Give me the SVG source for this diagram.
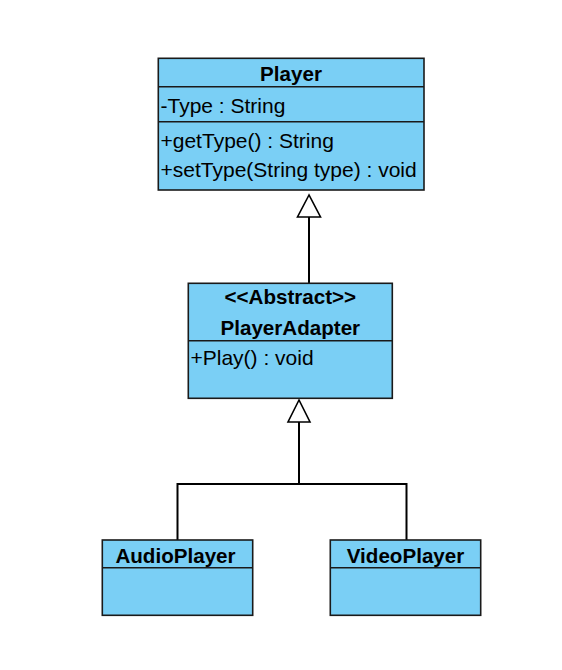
<svg xmlns="http://www.w3.org/2000/svg" width="562" height="670" viewBox="0 0 562 670">
<style>
.box{fill:#7ACFF5;stroke:#1a1a1a;stroke-width:1.6}
.div{stroke:#1a1a1a;stroke-width:1.6}
.t{font-family:"Liberation Sans",Arial,sans-serif;font-size:21px;fill:#000}
.b{font-weight:bold;text-anchor:middle;font-size:20.6px}
.c{fill:none;stroke:#000;stroke-width:2}
.h{fill:#fff;stroke:#000;stroke-width:1.6}
</style>
<rect width="562" height="670" fill="#fff"/>
<g id="connectors">
<path class="c" d="M309 283V217"/>
<polygon class="h" points="309,195 297.5,217 320.5,217"/>
<path class="c" d="M299 422V484M177.5 540V484H406.5V540"/>
<polygon class="h" points="299,400 288,422 310,422"/>
</g>
<g id="Player">
<rect class="box" x="158.3" y="58.3" width="265.7" height="131.7"/>
<line class="div" x1="158.3" y1="86.7" x2="424" y2="86.7"/>
<line class="div" x1="158.3" y1="121.7" x2="424" y2="121.7"/>
<text class="t b" x="291" y="81">Player</text>
<text class="t" x="160.5" y="112.5">-Type : String</text>
<text class="t" x="160.5" y="148">+getType() : String</text>
<text class="t" x="160.5" y="176.5">+setType(String type) : void</text>
</g>
<g id="PlayerAdapter">
<rect class="box" x="188.3" y="283.3" width="204" height="115"/>
<line class="div" x1="188.3" y1="340.7" x2="392.3" y2="340.7"/>
<text class="t b" x="290.3" y="304">&lt;&lt;Abstract&gt;&gt;</text>
<text class="t b" x="290.3" y="335">PlayerAdapter</text>
<text class="t" x="190.5" y="365">+Play() : void</text>
</g>
<g id="AudioPlayer">
<rect class="box" x="102.3" y="540" width="150.4" height="75.3"/>
<line class="div" x1="102.3" y1="567.7" x2="252.7" y2="567.7"/>
<text class="t b" x="175.5" y="562.5">AudioPlayer</text>
</g>
<g id="VideoPlayer">
<rect class="box" x="330.3" y="540" width="150.4" height="75.3"/>
<line class="div" x1="330.3" y1="567.7" x2="480.7" y2="567.7"/>
<text class="t b" x="405.5" y="562.5">VideoPlayer</text>
</g>
</svg>
